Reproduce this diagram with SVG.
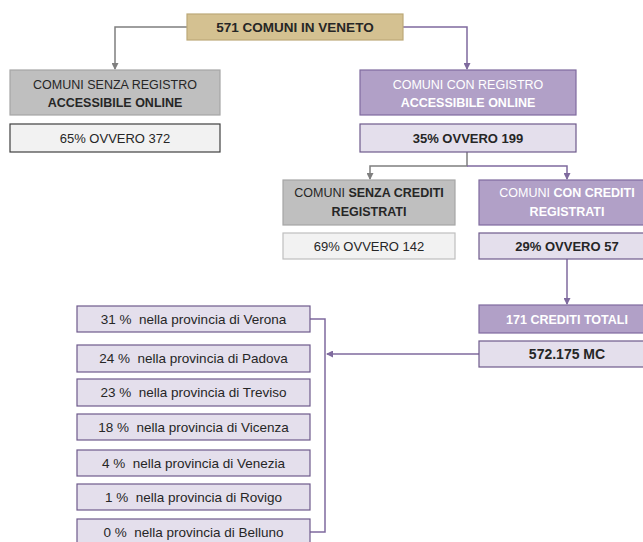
<svg xmlns="http://www.w3.org/2000/svg" width="643" height="542" viewBox="0 0 643 542">
<style>
text{font-family:"Liberation Sans",Arial,sans-serif;font-size:12.5px;fill:#262626;text-anchor:middle}
.b{font-weight:bold}
.w{fill:#ffffff}
.v{font-size:13px}
.t{font-size:13.5px}
.p{font-size:13.5px;white-space:pre}
.gray{fill:#BFBFBF;stroke:#A6A6A6;stroke-width:1.2}
.pale{fill:#F2F2F2;stroke:#404040;stroke-width:1.2}
.pale2{fill:#F2F2F2;stroke:#BFBFBF;stroke-width:1.2}
.purple{fill:#B1A0C7;stroke:#7F6A9E;stroke-width:1.2}
.lav{fill:#E4DFEC;stroke:#6E5A8C;stroke-width:1.2}
.tan{fill:#D4C191;stroke:#BCA978;stroke-width:1.2}
.cg{fill:none;stroke:#7F7F7F;stroke-width:1.5}
.cp{fill:none;stroke:#7F6A9E;stroke-width:1.5}
</style>
<defs>
<marker id="ag" markerWidth="7" markerHeight="7" refX="6" refY="3.5" orient="auto" markerUnits="userSpaceOnUse"><path d="M0,0 L7,3.5 L0,7 z" fill="#7F7F7F"/></marker>
<marker id="ap" markerWidth="7" markerHeight="7" refX="6" refY="3.5" orient="auto" markerUnits="userSpaceOnUse"><path d="M0,0 L7,3.5 L0,7 z" fill="#7F6A9E"/></marker>
</defs>
<g id="connectors">
<path class="cg" d="M187,27 H115 V69" marker-end="url(#ag)"/>
<path class="cp" d="M403,27 H467 V69" marker-end="url(#ap)"/>
<path class="cg" d="M467,152 V166 H370 V179" marker-end="url(#ag)"/>
<path class="cp" d="M467,166 H567 V179" marker-end="url(#ap)"/>
<path class="cp" d="M567,259 V304" marker-end="url(#ap)"/>
<path class="cp" d="M479,354 H327" marker-end="url(#ap)"/>
<path class="cp" d="M310,319 H325 V532 H310"/>
</g>
<g id="top"><rect class="tan" x="187" y="14" width="216" height="26"/><text class="b t" x="295" y="32">571 COMUNI IN VENETO</text></g>
<g id="senza-registro"><rect class="gray" x="10" y="70" width="210" height="45"/><text x="115" y="88.5">COMUNI SENZA REGISTRO</text><text class="b" x="115" y="106.5">ACCESSIBILE ONLINE</text></g>
<g id="senza-registro-val"><rect class="pale" x="10" y="124" width="210" height="28"/><text class="v" x="115" y="142.5">65% OVVERO 372</text></g>
<g id="con-registro"><rect class="purple" x="360" y="70" width="216" height="45"/><text class="w" x="468" y="88.5">COMUNI CON REGISTRO</text><text class="b w" x="468" y="106.5">ACCESSIBILE ONLINE</text></g>
<g id="con-registro-val"><rect class="lav" x="360" y="124" width="216" height="28"/><text class="b v" x="468" y="142.5">35% OVVERO 199</text></g>
<g id="senza-crediti"><rect class="gray" x="283" y="180" width="172" height="45"/><text x="369" y="196.5">COMUNI <tspan class="b">SENZA CREDITI</tspan></text><text class="b" x="369" y="215.5">REGISTRATI</text></g>
<g id="senza-crediti-val"><rect class="pale2" x="283" y="233" width="172" height="26"/><text class="v" x="369" y="250.5">69% OVVERO 142</text></g>
<g id="con-crediti"><rect class="purple" x="479" y="180" width="176" height="45"/><text class="w" x="567" y="196.5">COMUNI <tspan class="b w">CON CREDITI</tspan></text><text class="b w" x="567" y="215.5">REGISTRATI</text></g>
<g id="con-crediti-val"><rect class="lav" x="479" y="233" width="176" height="26"/><text class="b v" x="567" y="250.5">29% OVVERO 57</text></g>
<g id="crediti-totali"><rect class="purple" x="479" y="305" width="176" height="28"/><text class="b w" x="567" y="323.5">171 CREDITI TOTALI</text></g>
<g id="mc"><rect class="lav" x="479" y="341" width="176" height="26"/><text class="b" x="567" y="359" style="font-size:14px">572.175 MC</text></g>
<g id="verona"><rect class="lav" x="77" y="306" width="233" height="26"/><text class="p" x="193.5" y="324">31 %  nella provincia di Verona</text></g>
<g id="padova"><rect class="lav" x="77" y="345" width="233" height="27"/><text class="p" x="193.5" y="363">24 %  nella provincia di Padova</text></g>
<g id="treviso"><rect class="lav" x="77" y="379" width="233" height="27"/><text class="p" x="193.5" y="397">23 %  nella provincia di Treviso</text></g>
<g id="vicenza"><rect class="lav" x="77" y="414" width="233" height="26"/><text class="p" x="193.5" y="432">18 %  nella provincia di Vicenza</text></g>
<g id="venezia"><rect class="lav" x="77" y="450" width="233" height="26"/><text class="p" x="193.5" y="468">4 %  nella provincia di Venezia</text></g>
<g id="rovigo"><rect class="lav" x="77" y="484" width="233" height="26"/><text class="p" x="193.5" y="502">1 %  nella provincia di Rovigo</text></g>
<g id="belluno"><rect class="lav" x="77" y="519" width="233" height="26"/><text class="p" x="193.5" y="537">0 %  nella provincia di Belluno</text></g>
</svg>
